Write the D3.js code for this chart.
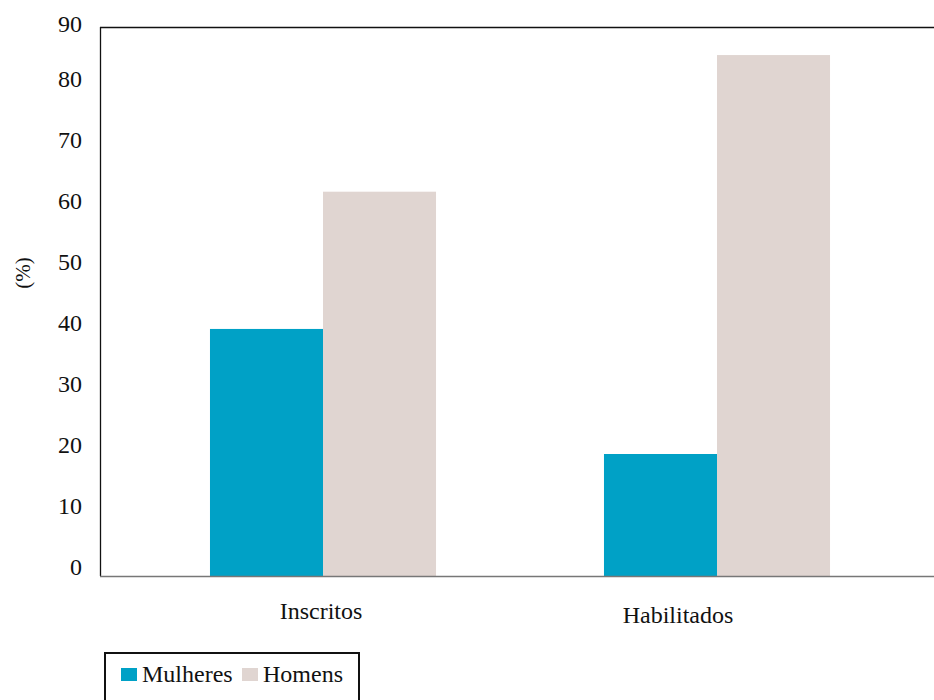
<!DOCTYPE html>
<html>
<head>
<meta charset="utf-8">
<script src="https://cdn.jsdelivr.net/npm/d3@7"></script>
<style>
  html, body { margin: 0; padding: 0; background: #fff; }
  svg { display: block; font-family: "Liberation Serif", "Times New Roman", serif; }
</style>
</head>
<body>
<svg id="chart" width="934" height="700"></svg>
<script>
// Categories, series and axis ticks
const categories = ["Inscritos", "Habilitados"];
const seriesNames = ["Mulheres", "Homens"];
const mulheres = [40.5, 20.0];
const homens = [63.0, 85.4];
const yTicks = [0, 10, 20, 30, 40, 50, 60, 70, 80, 90];
const yLabel = "(%)";

const colors = { Mulheres: "#00A1C6", Homens: "#E0D5D1" };
const values = { Mulheres: mulheres, Homens: homens };

const svg = d3.select("#chart");

const plot = { left: 100, right: 934, top: 27, bottom: 576 };

const y = d3.scaleLinear().domain([0, 90]).range([plot.bottom, plot.top]);

// group positions and bars within each group
const x0 = d3.scaleBand().domain(categories).range([126, 914]).padding(0);
const x1 = d3.scaleBand().domain(seriesNames).range([0, x0.bandwidth()])
  .paddingInner(0).paddingOuter(0.743);

// bars
const groups = svg.append("g").selectAll("g")
  .data(categories)
  .join("g")
  .attr("transform", d => `translate(${x0(d)},0)`);

groups.selectAll("rect")
  .data((c, i) => seriesNames.map(s => ({ s, v: values[s][i] })))
  .join("rect")
  .attr("x", d => x1(d.s))
  .attr("width", x1.bandwidth())
  .attr("y", d => y(d.v))
  .attr("height", d => y(0) - y(d.v))
  .attr("fill", d => colors[d.s]);

// frame: top and left in black, baseline in grey
svg.append("line")
  .attr("x1", plot.left).attr("x2", plot.right)
  .attr("y1", plot.top + 0.5).attr("y2", plot.top + 0.5)
  .attr("stroke", "#111").attr("stroke-width", 1.3);
svg.append("line")
  .attr("x1", plot.left + 0.5).attr("x2", plot.left + 0.5)
  .attr("y1", plot.top).attr("y2", plot.bottom)
  .attr("stroke", "#111").attr("stroke-width", 1.3);
svg.append("line")
  .attr("x1", plot.left).attr("x2", plot.right)
  .attr("y1", plot.bottom + 0.5).attr("y2", plot.bottom + 0.5)
  .attr("stroke", "#777").attr("stroke-width", 1.3);

// y tick labels
svg.append("g").selectAll("text")
  .data(yTicks)
  .join("text")
  .attr("x", 82)
  .attr("y", d => Math.max(y(d) - 9, 24))
  .attr("text-anchor", "end")
  .attr("dominant-baseline", "central")
  .attr("font-size", 24)
  .attr("fill", "#111")
  .text(d => d);

// y axis title
svg.append("text")
  .attr("transform", "translate(23,273) rotate(-90)")
  .attr("text-anchor", "middle")
  .attr("dominant-baseline", "central")
  .attr("font-size", 21)
  .attr("fill", "#111")
  .text(yLabel);

// category labels
const xl = d3.scalePoint().domain(categories).range([321, 678]);
svg.append("g").selectAll("text")
  .data(categories)
  .join("text")
  .attr("x", d => xl(d))
  .attr("y", (d, i) => 619 + i * 4)
  .attr("text-anchor", "middle")
  .attr("font-size", 24)
  .attr("fill", "#111")
  .text(d => d);

// legend
const legend = svg.append("g");
legend.append("rect")
  .attr("x", 105).attr("y", 653)
  .attr("width", 254).attr("height", 60)
  .attr("fill", "#fff").attr("stroke", "#111").attr("stroke-width", 2);

const legendX = [121, 242];
const items = legend.selectAll("g.item")
  .data(seriesNames)
  .join("g")
  .attr("class", "item")
  .attr("transform", (d, i) => `translate(${legendX[i]},668)`);
items.append("rect")
  .attr("width", 16).attr("height", 13)
  .attr("fill", d => colors[d]);
items.append("text")
  .attr("x", 21).attr("y", 14)
  .attr("font-size", 24)
  .attr("fill", "#111")
  .text(d => d);
</script>
</body>
</html>
